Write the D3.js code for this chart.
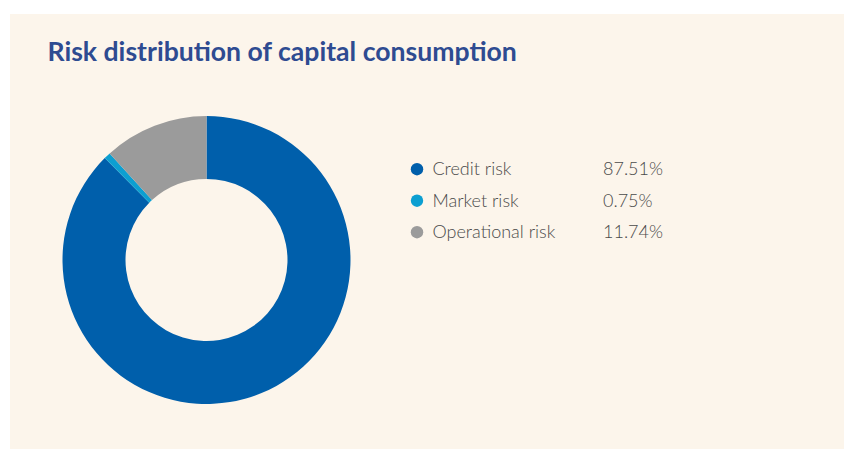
<!DOCTYPE html>
<html>
<head>
<meta charset="utf-8">
<script src="https://cdn.jsdelivr.net/npm/d3@7"></script>
<style>
  html, body { margin: 0; padding: 0; background: #ffffff; }
  svg { display: block; }
</style>
</head>
<body>
<svg id="chart" width="844" height="449"></svg>
<script>
// Capital consumption split by risk type (percent)
const categories = ["Credit risk", "Market risk", "Operational risk"];
const shares = [87.51, 0.75, 11.74];
const shareLabels = ["87.51%", "0.75%", "11.74%"];
const sliceColors = ["#005fab", "#0c9fd1", "#9b9b9b"];

const width = 844, height = 449;
const svg = d3.select("#chart");

// card background
svg.append("rect")
  .attr("x", 10).attr("y", 14)
  .attr("width", width - 10).attr("height", height - 14)
  .attr("fill", "#fcf5eb");

svg.append("text")
  .attr("x", 47.5).attr("y", 61)
  .attr("font-family", "Lato, sans-serif")
  .attr("font-weight", 700)
  .attr("font-size", 26.6)
  .attr("fill", "#2e4b91")
  .text("Risk distribution of capital consumption");

const data = categories.map((c, i) => ({ name: c, value: shares[i], label: shareLabels[i], color: sliceColors[i] }));

const pie = d3.pie().sort(null).value(d => d.value);
const arc = d3.arc().innerRadius(81).outerRadius(144);

const donut = svg.append("g").attr("transform", "translate(206.5,260)");
donut.selectAll("path")
  .data(pie(data))
  .join("path")
  .attr("d", arc)
  .attr("fill", d => d.data.color);

// legend
const rowY = d3.scalePoint().domain(categories).range([175, 238]);
const legend = svg.append("g");
const rows = legend.selectAll("g")
  .data(data)
  .join("g")
  .attr("transform", d => `translate(0,${rowY(d.name)})`);

rows.append("circle")
  .attr("cx", 417).attr("cy", -5.8).attr("r", 6.2)
  .attr("fill", d => d.color);

rows.append("text")
  .attr("x", 432.5).attr("y", 0)
  .attr("font-family", "Lato, sans-serif")
  .attr("font-weight", 300)
  .attr("font-size", 18)
  .attr("fill", "#4a4a4a")
  .text(d => d.name);

rows.append("text")
  .attr("x", 603).attr("y", 0)
  .attr("font-family", "Lato, sans-serif")
  .attr("font-weight", 300)
  .attr("font-size", 18)
  .attr("fill", "#4a4a4a")
  .text(d => d.label);
</script>
</body>
</html>
